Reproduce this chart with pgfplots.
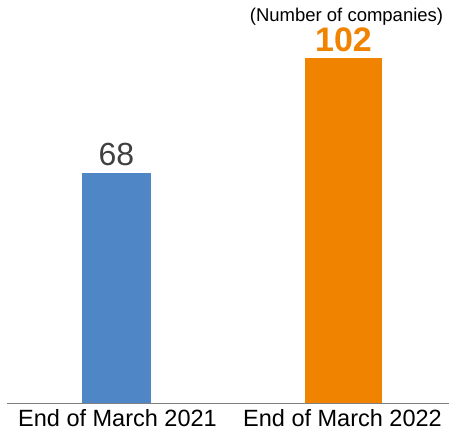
\documentclass[border=0pt]{standalone}
\usepackage{pgfplots}
\pgfplotsset{compat=1.18}
\usepackage{fontspec}
\setmainfont{Liberation Sans}
\definecolor{barblue}{RGB}{79,134,198}
\definecolor{barorange}{RGB}{240,131,0}
\definecolor{lblgray}{RGB}{64,64,64}
\begin{document}
\begin{tikzpicture}
\begin{axis}[
  at={(7bp,30bp)}, anchor=south west,
  scale only axis, width=442bp, height=403bp,
  xmin=7, xmax=449, ymin=0, ymax=119.15,
  axis x line=bottom, axis y line=none,
  x axis line style={-, color=black!50, line width=0.8pt},
  xtick={117.5,342.5},
  xticklabels={End of March 2021, End of March 2022},
  major tick length=0pt,
  xticklabel style={font=\fontsize{23.5bp}{26bp}\selectfont, yshift=-3bp},
  ybar, bar shift=0pt,
  clip=false,
  point meta=explicit symbolic,
  nodes near coords,
]
\addplot[fill=barblue, draw=none, bar width=69bp,
  every node near coord/.append style={anchor=center, yshift=18.5bp, font=\fontsize{32bp}{34bp}\selectfont, text=lblgray}]
  coordinates {(116.5,68) [68]};
\addplot[fill=barorange, draw=none, bar width=77bp,
  every node near coord/.append style={anchor=center, yshift=18.5bp, font=\fontsize{34bp}{36bp}\selectfont\bfseries, text=barorange}]
  coordinates {(343.5,102) [102]};
\end{axis}
\node[font=\fontsize{18.5bp}{20bp}\selectfont, anchor=center, inner sep=0pt] at (346.5bp,416bp) {(Number of companies)};
\pgfresetboundingbox
\path[use as bounding box] (0,0) rectangle (449bp,433bp);
\end{tikzpicture}
\end{document}
